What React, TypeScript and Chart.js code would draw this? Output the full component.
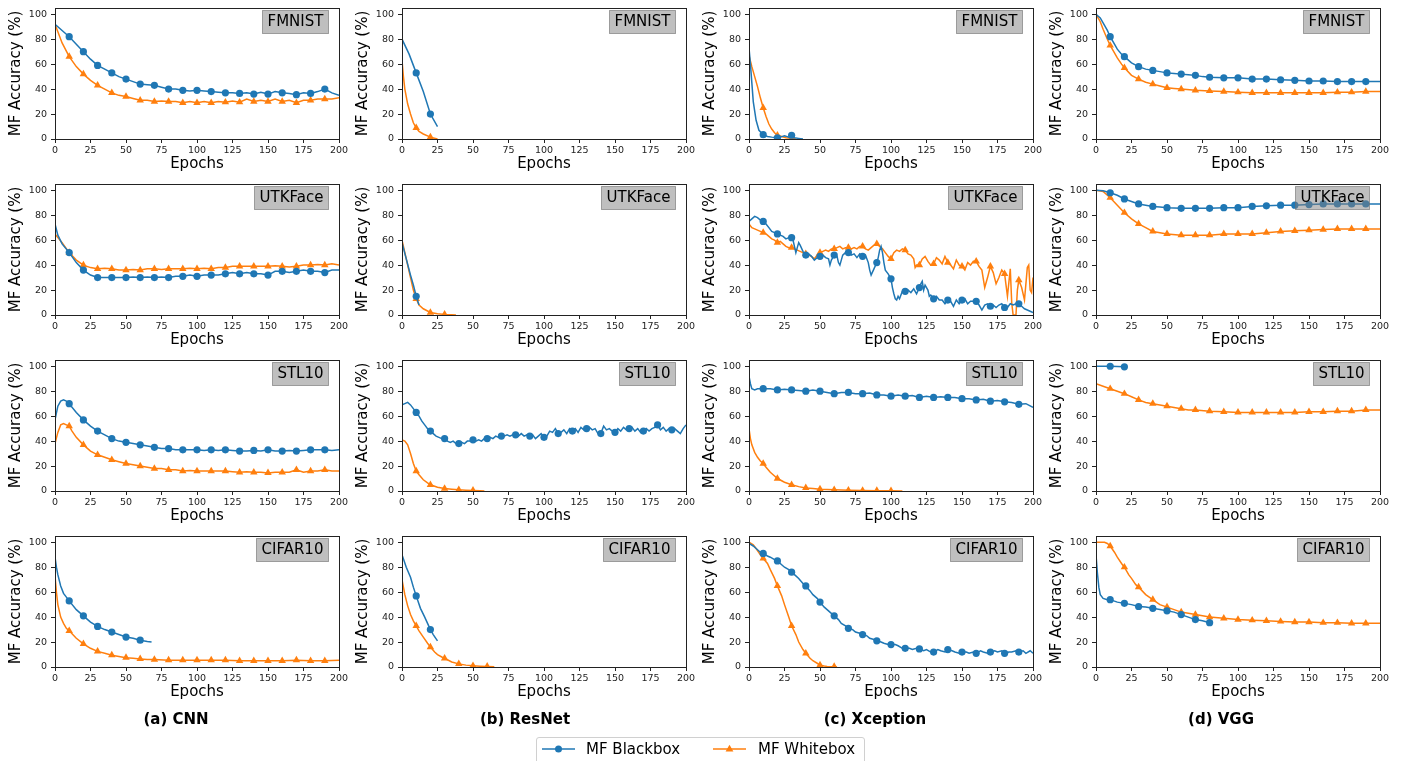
import React, { useEffect, useRef } from "react";
import { Chart, registerables } from "chart.js";

Chart.register(...registerables);

const FONT = "'DejaVu Sans', 'Liberation Sans', sans-serif";
const BLUE = "#1f77b4";
const ORANGE = "#ff7f0e";

// ---------- labels ----------
const X_TICKS = [0, 25, 50, 75, 100, 125, 150, 175, 200];
const Y_TICKS = [0, 20, 40, 60, 80, 100];
const MODELS = ["(a) CNN", "(b) ResNet", "(c) Xception", "(d) VGG"];
const DATASETS = ["FMNIST", "UTKFace", "STL10", "CIFAR10"];
const SERIES_LABELS = ["MF Blackbox", "MF Whitebox"];
const X_TITLE = "Epochs";
const Y_TITLE = "MF Accuracy (%)";

// ---------- data: [epoch, accuracy] ----------
// CNN
const cnnFmnistBlack = [[0,92],[5,87],[10,82],[15,76],[20,70],[25,64],[30,59],[35,56],[40,53],[45,50],[50,48],[55,46],[60,44],[65,43.5],[70,43],[75,41.5],[80,40],[85,40],[90,39],[95,38.5],[100,39],[105,38.5],[110,38],[115,37.5],[120,37],[125,37],[130,36.5],[135,37],[140,36],[145,37.5],[150,36],[155,38],[160,37],[165,36.5],[170,35.5],[175,37],[180,36.5],[185,38],[190,40],[195,37],[200,35]];
const cnnFmnistWhite = [[0,92],[5,77],[10,66],[15,58],[20,52],[25,47],[30,43],[35,40],[40,37],[45,35],[50,34],[55,32.5],[60,31],[65,31],[70,30],[75,30.5],[80,30],[85,30],[90,29],[95,30],[100,29],[105,30],[110,29],[115,30],[120,29.5],[125,30.5],[130,29.5],[135,32],[140,30],[145,31],[150,30],[155,32],[160,30],[165,31],[170,29],[175,31],[180,31],[185,32],[190,32],[195,32],[200,33]];
const cnnUtkBlack = [[0,73],[2,64],[5,57],[10,50],[15,42],[20,36],[25,32],[30,30],[35,30],[40,30],[45,30],[50,30],[55,30.5],[60,30],[65,30.5],[70,30],[75,30.5],[80,30],[85,31],[90,31],[95,32],[100,31],[105,32],[110,32],[115,32],[120,33],[125,34],[130,33],[135,34],[140,33],[145,33],[150,32],[155,35],[160,35],[165,34],[170,35],[175,36],[180,35],[185,35],[190,34],[195,36],[200,36]];
const cnnUtkWhite = [[0,65],[2,62],[5,58],[10,50],[15,44],[20,40],[25,38],[30,37],[35,37.5],[40,37],[45,36],[50,36],[55,36.5],[60,36],[65,37],[70,37],[75,36.5],[80,37],[85,37],[90,37],[95,37.5],[100,37],[105,37.5],[110,37],[115,38],[120,38],[125,39],[130,39],[135,39],[140,39],[145,39],[150,39],[155,39.5],[160,39],[165,38.5],[170,39],[175,40],[180,40],[185,40.5],[190,40],[195,41],[200,40]];
const cnnStlBlack = [[0,57],[2,68],[4,72],[6,73],[8,72],[10,70],[15,63],[20,57],[25,52],[30,48],[35,45],[40,42],[45,40],[50,39],[55,38],[60,37],[65,36],[70,35],[75,34],[80,34],[85,33],[90,33],[95,33],[100,33],[105,32.5],[110,33],[115,32.5],[120,33],[125,32.5],[130,32],[135,32],[140,32.5],[145,32],[150,33],[155,32],[160,32],[165,32.5],[170,32],[175,32.5],[180,33],[185,33],[190,33],[195,32.5],[200,33]];
const cnnStlWhite = [[0,38],[2,47],[4,53],[6,54],[8,53],[10,52],[12,48],[15,43],[20,37],[25,32],[30,29],[35,27],[40,25],[45,23.5],[50,22],[55,21],[60,20],[65,19],[70,18],[75,18],[80,17],[85,17],[90,16],[95,16.5],[100,16],[105,16],[110,16],[115,16],[120,16],[125,15.5],[130,15],[135,15.5],[140,15],[145,15],[150,14.5],[155,15],[160,15],[165,15],[170,17],[175,15],[180,16],[185,16],[190,17],[195,16],[200,16]];
const cnnCifarBlack = [[0,88],[1,80],[2,74],[4,65],[6,59],[8,56],[10,53],[15,46],[20,41],[25,36],[30,32.5],[35,30],[40,28],[45,26],[50,24],[55,23],[60,21.5],[65,20.5],[68,20]];
const cnnCifarWhite = [[0,73],[1,60],[2,50],[4,40],[6,35],[8,31],[10,29],[15,23],[20,18.5],[25,15],[30,12.5],[35,11],[40,9.5],[45,8.5],[50,7.5],[55,7],[60,6.5],[65,6],[70,6],[80,5.5],[90,5.5],[100,5.5],[110,5.5],[120,5.5],[130,5],[140,5],[150,5],[160,5],[170,5.5],[180,5],[190,5],[200,5.5]];

// ResNet
const resFmnistBlack = [[0,80],[5,68],[10,53],[15,38],[20,20],[25,10]];
const resFmnistWhite = [[0,63],[1,50],[2,40],[4,28],[6,20],[8,13],[10,9],[12,6],[15,4],[20,1.5],[25,0]];
const resUtkBlack = [[0,58],[3,45],[6,32],[8,24],[10,15],[12,8]];
const resUtkWhite = [[0,60],[3,45],[6,30],[8,20],[10,13],[12,8],[15,5],[20,2],[25,1],[30,0.5],[35,0.2],[38,0]];
const resStlBlack = [[0,69],[2,70],[4,71],[6,69],[8,66],[10,63],[12,60],[14,56],[16,53],[18,50],[20,48],[22,46],[24,44],[26,43],[28,42],[30,42],[32,40],[34,39],[36,40],[38,38],[40,38],[42,39],[44,38],[46,40],[48,40],[50,41],[52,40],[54,41],[56,40],[58,42],[60,42],[62,43],[64,42],[66,44],[68,43],[70,44],[72,44],[74,45],[76,44],[78,45],[80,45],[82,44],[84,46],[86,44],[88,45],[90,44],[92,45],[94,42],[96,44],[98,46],[100,43],[102,44],[104,48],[106,47],[108,50],[110,46],[112,47],[114,49],[116,46],[118,50],[120,48],[122,50],[124,47],[126,51],[128,49],[130,50],[132,51],[134,49],[136,50],[138,46],[140,46],[142,52],[144,49],[146,50],[148,48],[150,47],[152,50],[154,48],[156,51],[158,49],[160,50],[162,51],[164,48],[166,50],[168,47],[170,48],[172,50],[174,48],[176,50],[178,51],[180,53],[182,49],[184,51],[186,48],[188,50],[190,49],[192,50],[194,48],[196,46],[198,50],[200,53]];
const resStlWhite = [[0,41],[2,40],[4,37],[6,30],[8,22],[10,16],[12,13],[15,9],[18,6.5],[20,5],[25,3],[30,2],[35,1.5],[40,1],[45,0.7],[50,0.5],[55,0.3],[58,0]];
const resCifarBlack = [[0,90],[3,80],[6,72],[8,64],[10,57],[13,47],[16,40],[18,35],[20,30],[22,26],[25,21]];
const resCifarWhite = [[0,70],[2,58],[4,49],[6,42],[8,37],[10,33],[12,29],[15,24],[18,19],[20,16],[23,12],[25,10],[28,8],[30,7],[35,4],[40,2.5],[45,1.5],[50,1],[55,0.7],[60,0.5],[65,0.2]];

// Xception
const xcFmnistBlack = [[0,73],[1,60],[2,45],[3,30],[5,15],[7,7],[10,3.5],[13,2],[16,1.5],[20,1],[22,1.5],[25,2.5],[28,1.5],[30,3],[32,1],[35,0.5],[38,0]];
const xcFmnistWhite = [[0,67],[2,58],[4,50],[6,42],[8,33],[10,25],[12,18],[14,12],[16,8],[18,5],[20,3],[23,2],[26,1],[30,0.5],[33,0]];
const xcUtkBlack = [[0,75],[2,77],[4,79],[6,78],[8,76],[10,75],[12,73],[14,70],[16,67],[18,66],[20,65],[22,64],[24,63],[26,61],[28,62],[30,62],[31,60],[32,55],[33,50],[34,54],[35,58],[36,56],[38,51],[40,48],[42,49],[44,47],[46,44],[48,46],[50,47],[52,48],[54,46],[56,45],[57,40],[58,44],[60,48],[62,47],[63,42],[64,40],[65,44],[66,48],[68,50],[70,50],[72,48],[74,49],[76,46],[78,49],[80,47],[82,48],[84,42],[85,36],[86,32],[88,37],[90,42],[91,46],[92,52],[93,55],[94,50],[95,42],[96,36],[98,33],[100,29],[101,22],[102,17],[103,13],[104,12],[105,15],[106,13],[108,19],[110,19],[112,20],[114,18],[116,21],[118,17],[120,22],[121,25],[122,27],[123,20],[124,24],[126,20],[127,15],[128,16],[130,13],[132,15],[134,12],[136,12],[138,9],[140,12],[142,11],[144,7],[146,12],[148,9],[150,12],[152,13],[154,9],[156,11],[158,11],[160,11],[162,8],[164,4],[166,8],[168,9],[170,7],[172,8],[174,6],[176,8],[178,9],[180,6],[182,6],[184,9],[186,8],[188,9],[190,9],[192,7],[194,5],[196,4],[198,3],[200,2]];
const xcUtkWhite = [[0,73],[2,70],[4,69],[6,68],[8,67],[10,66],[12,65],[14,63],[16,61],[18,60],[20,58],[22,59],[24,57],[26,55],[28,54],[30,54],[32,53],[34,52],[36,51],[38,50],[40,49],[42,48],[44,47],[46,45],[48,48],[50,50],[52,51],[54,52],[56,51],[58,53],[60,53],[62,54],[64,55],[66,53],[68,54],[70,54],[72,53],[74,54],[76,53],[78,55],[80,55],[82,53],[84,52],[86,54],[88,56],[90,57],[92,55],[94,53],[96,50],[98,47],[100,45],[102,50],[104,52],[106,51],[108,53],[110,52],[112,49],[114,48],[116,45],[117,38],[118,40],[120,40],[122,45],[124,47],[126,43],[128,40],[130,41],[132,46],[134,44],[136,41],[138,47],[140,42],[142,40],[144,37],[146,44],[148,40],[150,39],[152,36],[154,42],[156,40],[158,43],[160,43],[162,39],[164,36],[166,22],[168,30],[170,39],[172,34],[174,25],[176,30],[178,36],[180,33],[182,15],[184,37],[185,10],[186,0],[188,0],[189,20],[190,28],[192,22],[194,12],[196,38],[197,40],[198,20],[199,18],[200,30]];
const xcStlBlack = [[0,92],[1,86],[2,82],[4,81],[6,82],[8,82],[10,82],[15,82],[20,81],[25,81.5],[30,81],[35,80.5],[40,80],[45,81],[50,80],[55,79],[60,78],[65,79],[70,79],[75,78],[80,78],[85,78.5],[90,77],[95,77],[100,76],[105,77],[110,76],[115,76.5],[120,75],[125,76],[130,75],[135,75.5],[140,75],[145,75],[150,74],[155,74],[160,73],[165,73.5],[170,72],[175,72.5],[180,71.5],[185,71],[190,69.5],[195,70],[200,67]];
const xcStlWhite = [[0,50],[1,42],[2,37],[4,31],[6,27],[8,24],[10,22],[12,19],[15,15],[18,12],[20,10],[25,7],[30,5],[35,3.5],[40,2.5],[45,2],[50,1.5],[60,1],[70,0.6],[80,0.4],[90,0.3],[100,0.2],[108,0]];
const xcCifarBlack = [[0,99],[3,97],[5,95],[8,92],[10,91],[13,89],[15,88],[18,86],[20,85],[23,82],[25,80],[28,78],[30,76],[33,73],[35,71],[38,67],[40,65],[43,61],[45,58],[48,55],[50,52],[53,48],[55,46],[58,43],[60,41],[63,38],[65,35],[68,33],[70,31],[73,30],[75,28],[78,27],[80,26],[83,25],[85,23],[88,22],[90,21],[93,20],[95,19],[98,18],[100,18],[103,18],[105,17],[108,15],[110,15],[113,15],[115,14],[118,15],[120,14.5],[123,13],[125,14],[128,12],[130,12],[133,14],[135,13],[138,12],[140,14],[143,13],[145,12],[148,11],[150,12],[153,12],[155,11],[158,12],[160,11],[163,13],[165,12],[168,11],[170,12],[173,13],[175,12],[178,13],[180,11],[183,12],[185,12],[188,13],[190,12],[193,13],[195,11],[198,13],[200,11]];
const xcCifarWhite = [[0,100],[3,98],[5,95],[8,90],[10,87],[13,83],[15,78],[18,71],[20,65],[23,57],[25,50],[28,40],[30,33],[33,26],[35,20],[38,14],[40,11],[43,7],[45,5],[48,3],[50,1.5],[53,0.8],[55,0.5],[60,0.3],[62,0]];

// VGG
const vggFmnistBlack = [[0,100],[3,97],[5,93],[8,87],[10,82],[13,76],[15,72],[18,68],[20,66],[25,61],[30,58],[35,56],[40,55],[45,54],[50,53],[55,52.5],[60,52],[65,51.5],[70,51],[75,50],[80,49.5],[90,49],[100,49],[110,48],[120,48],[130,47.5],[140,47],[150,46.5],[160,46.5],[170,46],[180,46],[190,46],[200,46]];
const vggFmnistWhite = [[0,100],[3,94],[5,88],[8,80],[10,75],[13,69],[15,65],[18,60],[20,57],[25,51],[30,48],[35,45.5],[40,44],[45,42.5],[50,41],[55,40.5],[60,40],[70,39],[80,38.5],[90,38],[100,37.5],[110,37],[120,37],[130,37],[140,37],[150,37],[160,37],[170,37.5],[180,37.5],[190,38],[200,38]];
const vggUtkBlack = [[0,100],[5,99.5],[10,98],[15,96],[20,93],[25,91],[30,89],[35,88],[40,87],[45,86.5],[50,86],[60,85.5],[70,85.5],[80,85.5],[90,86],[100,86],[110,87],[120,87.5],[130,88],[140,88],[150,88.5],[160,89],[170,89],[180,89],[190,89],[200,89]];
const vggUtkWhite = [[0,100],[5,99],[10,94],[15,88],[20,82],[25,77],[30,73],[35,70],[40,67],[45,66],[50,65],[60,64],[70,64],[80,64],[90,65],[100,65],[110,65],[120,66],[130,67],[140,67.5],[150,68],[160,68.5],[170,69],[180,69],[190,69],[200,69]];
const vggStlBlack = [[0,100],[10,100],[20,99.5],[22,99]];
const vggStlWhite = [[0,86],[5,84],[10,82],[15,80],[20,78],[25,75.5],[30,73],[35,71],[40,70],[45,69],[50,68],[55,67],[60,66],[65,65],[70,65],[80,64],[90,63.5],[100,63],[110,63],[120,63],[130,63],[140,63],[150,63.5],[160,63.5],[170,64],[180,64],[190,65],[200,65]];
const vggCifarBlack = [[0,90],[1,75],[2,64],[3,58],[5,55],[8,54],[10,54],[15,52],[20,51],[25,50],[30,48.5],[35,48],[40,47],[45,46],[50,45],[55,44],[60,42],[65,40],[70,38],[75,37],[80,35.5]];
const vggCifarWhite = [[0,100],[3,100],[6,100],[8,99],[10,97],[13,92],[15,88],[18,83],[20,80],[23,74],[25,71],[28,66],[30,64],[35,58],[40,54],[45,50],[50,48],[55,46],[60,44],[65,43],[70,42],[75,41],[80,40],[90,39],[100,38],[110,37.5],[120,37],[130,36.5],[140,36],[150,36],[160,35.5],[170,35.5],[180,35],[190,35],[200,35]];

// [model][dataset] -> [blackbox, whitebox]
const GRID = [
  [[cnnFmnistBlack, cnnFmnistWhite], [cnnUtkBlack, cnnUtkWhite], [cnnStlBlack, cnnStlWhite], [cnnCifarBlack, cnnCifarWhite]],
  [[resFmnistBlack, resFmnistWhite], [resUtkBlack, resUtkWhite], [resStlBlack, resStlWhite], [resCifarBlack, resCifarWhite]],
  [[xcFmnistBlack, xcFmnistWhite], [xcUtkBlack, xcUtkWhite], [xcStlBlack, xcStlWhite], [xcCifarBlack, xcCifarWhite]],
  [[vggFmnistBlack, vggFmnistWhite], [vggUtkBlack, vggUtkWhite], [vggStlBlack, vggStlWhite], [vggCifarBlack, vggCifarWhite]],
];

// ---------- layout ----------
const PLOT_LEFT = [55, 402, 749, 1096];
const PLOT_TOP = [8, 184, 360, 536];
const PLOT_W = 284;
const PLOT_H = 131;
const Y_AXIS_W = 55;
const X_AXIS_H = 40;
const PAD_TOP = 8;
const PAD_RIGHT = 16;
const CANVAS_W = Y_AXIS_W + PLOT_W + PAD_RIGHT;
const CANVAS_H = PAD_TOP + PLOT_H + X_AXIS_H;
const MODEL_LABEL_X = [176, 525, 875, 1221];

const markerRadius = (r: number) => (ctx: any) => {
  const x = ctx.raw ? ctx.raw.x : 0;
  return x % 10 === 0 && x > 0 && x < 200 ? r : 0;
};

const decorPlugin = {
  id: "panelDecor",
  afterDraw(chart: any, _args: any, opts: any) {
    const { ctx, chartArea } = chart;
    const { left, top, right, bottom } = chartArea;
    ctx.save();
    // spines
    ctx.strokeStyle = "#222";
    ctx.lineWidth = 1;
    const l = Math.round(left - 0.5) + 0.5;
    const t = Math.round(top - 0.5) + 0.5;
    ctx.strokeRect(l, t, Math.round(right - left), Math.round(bottom - top));
    // dataset label box
    const text = opts.text as string;
    ctx.font = `15px ${FONT}`;
    const w = ctx.measureText(text).width;
    const bw = Math.round(w + 10);
    const bh = 23;
    const bx = Math.round(right - 11 - bw) + 0.5;
    const by = Math.round(top + 2) + 0.5;
    ctx.fillStyle = "rgba(128,128,128,0.5)";
    ctx.fillRect(bx, by, bw, bh);
    ctx.strokeStyle = "rgba(110,110,110,0.6)";
    ctx.strokeRect(bx, by, bw, bh);
    ctx.fillStyle = "#000";
    ctx.textAlign = "center";
    ctx.textBaseline = "middle";
    ctx.fillText(text, bx + bw / 2, by + bh / 2 + 0.5);
    ctx.restore();
  },
};

function Panel({ col, row }: { col: number; row: number }) {
  const ref = useRef<HTMLCanvasElement>(null);
  useEffect(() => {
    const [black, white] = GRID[col][row];
    const chart = new Chart(ref.current as HTMLCanvasElement, {
      type: "line",
      data: {
        datasets: [
          {
            label: SERIES_LABELS[0],
            data: black.map(([x, y]) => ({ x, y })),
            borderColor: BLUE,
            backgroundColor: BLUE,
            borderWidth: 1.5,
            pointStyle: "circle",
            pointRadius: markerRadius(3.6) as any,
            pointHoverRadius: 0,
            pointBorderWidth: 0,
            tension: 0,
          },
          {
            label: SERIES_LABELS[1],
            data: white.map(([x, y]) => ({ x, y })),
            borderColor: ORANGE,
            backgroundColor: ORANGE,
            borderWidth: 1.5,
            pointStyle: "triangle",
            pointRadius: markerRadius(4.3) as any,
            pointHoverRadius: 0,
            pointBorderWidth: 0,
            tension: 0,
          },
        ],
      },
      options: {
        responsive: false,
        animation: false,
        events: [],
        layout: { padding: { top: PAD_TOP, right: PAD_RIGHT, left: 0, bottom: 0 } },
        plugins: {
          legend: { display: false },
          tooltip: { enabled: false },
          panelDecor: { text: DATASETS[row] },
        } as any,
        scales: {
          x: {
            type: "linear",
            min: 0,
            max: 200,
            afterBuildTicks: (s: any) => {
              s.ticks = X_TICKS.map((v) => ({ value: v }));
            },
            afterFit: (s: any) => {
              s.height = X_AXIS_H;
              s.paddingLeft = 0;
              s.paddingRight = 0;
            },
            grid: { drawOnChartArea: false, drawTicks: true, tickLength: 4, color: "#222", lineWidth: 1 },
            border: { display: false },
            ticks: { font: { family: FONT, size: 9.5 }, color: "#222", padding: 2, maxRotation: 0, autoSkip: false },
            title: { display: true, text: X_TITLE, font: { family: FONT, size: 15 }, color: "#000", padding: { top: 0, bottom: 6 } },
          },
          y: {
            type: "linear",
            min: 0,
            max: 105,
            afterBuildTicks: (s: any) => {
              s.ticks = Y_TICKS.map((v) => ({ value: v }));
            },
            afterFit: (s: any) => {
              s.width = Y_AXIS_W;
              s.paddingTop = 0;
              s.paddingBottom = 0;
            },
            grid: { drawOnChartArea: false, drawTicks: true, tickLength: 4, color: "#222", lineWidth: 1 },
            border: { display: false },
            ticks: { font: { family: FONT, size: 9.5 }, color: "#222", padding: 4, autoSkip: false },
            title: { display: true, text: Y_TITLE, font: { family: FONT, size: 15 }, color: "#000", padding: { top: 7, bottom: 0 } },
          },
        },
      } as any,
      plugins: [decorPlugin],
    });
    return () => chart.destroy();
  }, [col, row]);
  return (
    <canvas
      ref={ref}
      width={CANVAS_W}
      height={CANVAS_H}
      style={{
        position: "absolute",
        left: PLOT_LEFT[col] - Y_AXIS_W,
        top: PLOT_TOP[row] - PAD_TOP,
        width: CANVAS_W,
        height: CANVAS_H,
        display: "block",
      }}
    />
  );
}

function LegendHandle({ color, marker }: { color: string; marker: "circle" | "triangle" }) {
  return (
    <svg width={33} height={12} style={{ display: "block" }}>
      <line x1={0} y1={6} x2={33} y2={6} stroke={color} strokeWidth={1.5} />
      {marker === "circle" ? (
        <circle cx={16.5} cy={6} r={3.5} fill={color} />
      ) : (
        <polygon points="16.5,1.8 20.4,8.4 12.6,8.4" fill={color} />
      )}
    </svg>
  );
}

export default function App() {
  const panels = [];
  for (let c = 0; c < 4; c++) for (let r = 0; r < 4; r++) panels.push(<Panel key={`${c}-${r}`} col={c} row={r} />);
  return (
    <div
      style={{
        position: "fixed",
        left: 0,
        top: 0,
        width: 1406,
        height: 761,
        background: "#fff",
        overflow: "hidden",
        fontFamily: FONT,
      }}
    >
      {panels}
      {MODELS.map((m, i) => (
        <div
          key={m}
          style={{
            position: "absolute",
            left: MODEL_LABEL_X[i],
            top: 710,
            transform: "translateX(-50%)",
            fontWeight: "bold",
            fontSize: 15,
            lineHeight: "18px",
            whiteSpace: "nowrap",
            color: "#000",
          }}
        >
          {m}
        </div>
      ))}
      <div
        style={{
          position: "absolute",
          left: 536,
          top: 737,
          width: 329,
          height: 30,
          border: "1px solid #d0d0d0",
          borderRadius: 3,
          background: "#fff",
          boxSizing: "border-box",
        }}
      >
        <div style={{ position: "absolute", left: 5, top: 5 }}>
          <LegendHandle color={BLUE} marker="circle" />
        </div>
        <div style={{ position: "absolute", left: 49, top: 2, fontSize: 15, lineHeight: "18px", whiteSpace: "nowrap" }}>
          {SERIES_LABELS[0]}
        </div>
        <div style={{ position: "absolute", left: 176, top: 5 }}>
          <LegendHandle color={ORANGE} marker="triangle" />
        </div>
        <div style={{ position: "absolute", left: 221, top: 2, fontSize: 15, lineHeight: "18px", whiteSpace: "nowrap" }}>
          {SERIES_LABELS[1]}
        </div>
      </div>
    </div>
  );
}
